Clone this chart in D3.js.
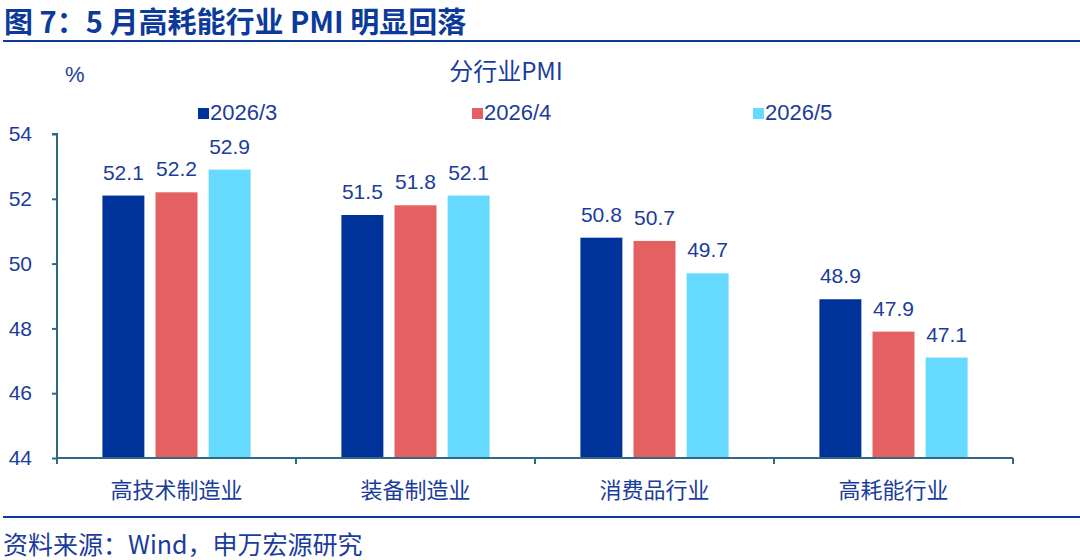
<!DOCTYPE html>
<html>
<head>
<meta charset="utf-8">
<script src="https://cdn.jsdelivr.net/npm/d3@7"></script>
<style>
  body { margin: 0; background: #fff; }
  svg { display: block; font-family: "Liberation Sans", Arial, "Noto Sans CJK SC", sans-serif; }
</style>
</head>
<body>
<div id="vis-container"></div>
<script>
// chart data
var categories = ["高技术制造业", "装备制造业", "消费品行业", "高耗能行业"];
var seriesNames = ["2026/3", "2026/4", "2026/5"];
var mar = [52.1, 51.5, 50.8, 48.9];
var apr = [52.2, 51.8, 50.7, 47.9];
var may = [52.9, 52.1, 49.7, 47.1];
var yTicks = [44, 46, 48, 50, 52, 54];

var colors = ["#003399", "#E46062", "#66D9FF"];
var textColor = "#1a3c9c";
var axisColor = "#2f6a80";

var W = 1080, H = 560;
var margin = {top: 134, left: 57, right: 67, bottom: 102};
var width = W - margin.left - margin.right,
    height = H - margin.top - margin.bottom;

var rows = categories.map(function(c, i) {
    return {cat: c, values: [mar[i], apr[i], may[i]]};
});

var svg = d3.select("#vis-container").append("svg")
    .attr("width", W)
    .attr("height", H);

// title + rules
svg.append("text")
    .attr("x", 4).attr("y", 33)
    .attr("fill", "#0b3a9a")
    .style("font-family", "'Noto Sans CJK SC', sans-serif")
    .style("font-weight", "bold")
    .style("font-size", "29px")
    .text("图 7：5 月高耗能行业 PMI 明显回落");
svg.append("line")
    .attr("x1", 3).attr("x2", W).attr("y1", 41).attr("y2", 41)
    .attr("stroke", "#0b3a9a").attr("stroke-width", 2);
svg.append("line")
    .attr("x1", 3).attr("x2", W).attr("y1", 517).attr("y2", 517)
    .attr("stroke", "#0b3a9a").attr("stroke-width", 2);
svg.append("text")
    .attr("x", 3).attr("y", 554)
    .attr("fill", textColor)
    .style("font-family", "'Noto Sans CJK SC', sans-serif")
    .style("font-size", "25px")
    .text("资料来源：Wind，申万宏源研究");

// unit & subtitle
svg.append("text")
    .attr("x", 65).attr("y", 82)
    .attr("fill", textColor)
    .style("font-size", "22px")
    .text("%");
svg.append("text")
    .attr("x", 506).attr("y", 80)
    .attr("text-anchor", "middle")
    .attr("fill", textColor)
    .style("font-family", "'Noto Sans CJK SC', sans-serif")
    .style("font-size", "24px")
    .text("分行业PMI");

// legend
var legendX = [198, 472, 753];
var legend = svg.selectAll(".legend")
    .data(seriesNames)
    .enter().append("g")
    .attr("class", "legend")
    .attr("transform", function(d, i) { return "translate(" + legendX[i] + ",120)"; });
legend.append("rect")
    .attr("x", 0).attr("y", -12)
    .attr("width", 11).attr("height", 11)
    .attr("fill", function(d, i) { return colors[i]; });
legend.append("text")
    .attr("x", 12).attr("y", 0)
    .attr("fill", textColor)
    .style("font-size", "22px")
    .text(function(d) { return d; });

var g = svg.append("g")
    .attr("transform", "translate(" + margin.left + "," + margin.top + ")");

var x0 = d3.scaleBand()
    .domain(categories)
    .range([0, width])
    .paddingInner(0.38)
    .paddingOuter(0.19);
var x1 = d3.scaleBand()
    .domain(d3.range(seriesNames.length))
    .range([0, x0.bandwidth()])
    .paddingInner(0.21)
    .paddingOuter(0);
var y = d3.scaleLinear()
    .domain([44, 54])
    .range([height, 0]);

var groups = g.selectAll(".grp")
    .data(rows)
    .enter().append("g")
    .attr("class", "grp")
    .attr("transform", function(d) { return "translate(" + x0(d.cat) + ",0)"; });

groups.selectAll("rect")
    .data(function(d) { return d.values; })
    .enter().append("rect")
    .attr("x", function(d, i) { return x1(i); })
    .attr("width", x1.bandwidth())
    .attr("y", function(d) { return y(d); })
    .attr("height", function(d) { return height - y(d); })
    .attr("fill", function(d, i) { return colors[i]; });

groups.selectAll(".lbl")
    .data(function(d) { return d.values; })
    .enter().append("text")
    .attr("class", "lbl")
    .attr("x", function(d, i) { return x1(i) + x1.bandwidth() / 2; })
    .attr("y", function(d) { return y(d) - 16; })
    .attr("text-anchor", "middle")
    .attr("fill", textColor)
    .style("font-size", "21px")
    .text(function(d) { return d.toFixed(1); });

// y axis
var yAxis = g.append("g")
    .call(d3.axisLeft(y).tickValues(yTicks).tickSize(5).tickPadding(20));
yAxis.select(".domain").attr("stroke", axisColor).attr("stroke-width", 2)
    .attr("d", "M-5,0H0V" + height);
yAxis.selectAll(".tick line").attr("stroke", axisColor).attr("stroke-width", 2);
yAxis.selectAll(".tick text")
    .attr("fill", textColor)
    .style("font-size", "21px")
    .style("font-family", "'Liberation Sans', Arial, sans-serif");

// x axis with category separators
var xAxis = g.append("g")
    .attr("transform", "translate(0," + height + ")");
xAxis.append("line")
    .attr("x1", 0).attr("x2", width)
    .attr("stroke", axisColor).attr("stroke-width", 2);
xAxis.selectAll(".sep")
    .data(d3.range(categories.length + 1))
    .enter().append("line")
    .attr("class", "sep")
    .attr("x1", function(d) { return d * width / categories.length; })
    .attr("x2", function(d) { return d * width / categories.length; })
    .attr("y1", 0).attr("y2", 6)
    .attr("stroke", axisColor).attr("stroke-width", 2);
xAxis.selectAll(".cat")
    .data(categories)
    .enter().append("text")
    .attr("class", "cat")
    .attr("x", function(d) { return x0(d) + x0.bandwidth() / 2; })
    .attr("y", 40)
    .attr("text-anchor", "middle")
    .attr("fill", textColor)
    .style("font-family", "'Noto Sans CJK SC', sans-serif")
    .style("font-size", "22px")
    .text(function(d) { return d; });
</script>
</body>
</html>
